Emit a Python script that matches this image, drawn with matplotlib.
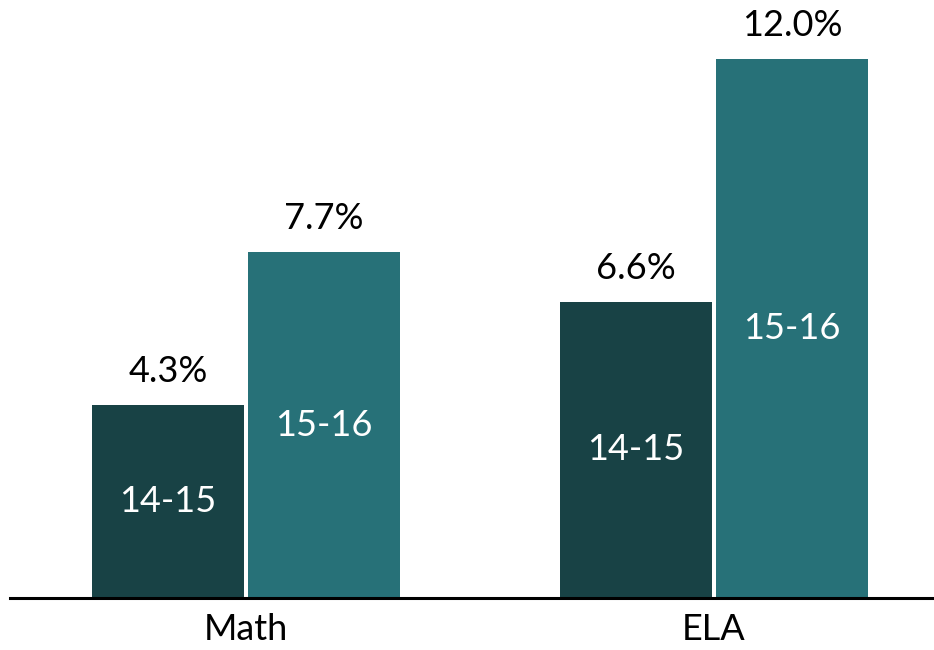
import matplotlib
matplotlib.use("Agg")
import matplotlib.pyplot as plt
import numpy as np

DARK = "#184245"; TEAL = "#277178"

subjects = ["Math", "ELA"]
years = ["14-15", "15-16"]
y1415 = [4.3, 6.6]
y1516 = [7.7, 12.0]

plt.rcParams["font.family"] = ["Lato", "DejaVu Sans"]

fig = plt.figure(figsize=(9.34, 6.5), dpi=100)
ax = fig.add_axes([10 / 934, 52 / 650, 924 / 934, 598 / 650])

x = np.arange(len(subjects))
w = 0.325
gap = 0.0085
for vals, off, color, lab in [(y1415, -(w + gap) / 2, DARK, years[0]),
                              (y1516, (w + gap) / 2, TEAL, years[1])]:
    bars = ax.bar(x + off, vals, width=w, color=color, zorder=2)
    for b, v in zip(bars, vals):
        cx = b.get_x() + b.get_width() / 2
        ax.text(cx, v / 2, lab, ha="center", va="center", color="white", fontsize=26)
        ax.text(cx, v + 0.75, f"{v:.1f}%", ha="center", va="center", color="black", fontsize=26)

ax.set_xlim(-0.504, 1.47)
ax.set_ylim(0, 13.32)
ax.set_xticks(x)
ax.set_xticklabels(subjects, fontsize=26)
ax.tick_params(axis="x", length=0, pad=11)
ax.set_yticks([])
for s in ["top", "right", "left"]:
    ax.spines[s].set_visible(False)
ax.spines["bottom"].set_linewidth(2.2)

fig.savefig("out.png", dpi=100, facecolor="white")
